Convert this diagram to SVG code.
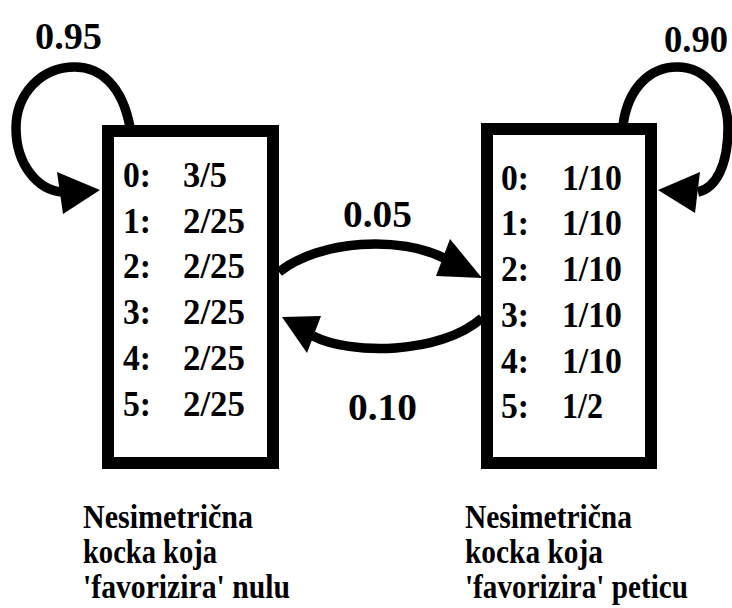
<svg xmlns="http://www.w3.org/2000/svg" width="732" height="608" viewBox="0 0 732 608">
<style>
.box{fill:#fff;stroke:#000;stroke-width:12}
.t{font-weight:bold;fill:#000}
.row{font-size:36px}
.lbl{font-size:38px}
.cap{font-size:34px}
.edge{fill:none;stroke:#000;stroke-width:9.5}
.head{fill:#000}
</style>
<rect width="732" height="608" fill="#fff"/>
<g id="connectors" font-family="Liberation Serif, Times New Roman, serif">
  <path class="edge" d="M130,127 C122,85 100,67 75,67 C40,67 16,95 16,128 C16,165 38,190 62,192"/>
  <polygon class="head" points="57,172 100,190 63,214"/>
  <path class="edge" d="M623,125 C628,88 650,67 677,67 C707,67 728,95 728,128 C728,165 716,188 698,192"/>
  <polygon class="head" points="700,172 658,190 695,213"/>
  <path class="edge" d="M279,272 C320,240 400,235 446,259"/>
  <polygon class="head" points="450,239 482,278 436,276"/>
  <path class="edge" d="M482,318 C440,355 350,355 313,336"/>
  <polygon class="head" points="321,316 282,317 307,353"/>
  <text class="t lbl" x="35" y="49" textLength="67" lengthAdjust="spacingAndGlyphs">0.95</text>
  <text class="t lbl" x="664" y="52" textLength="64" lengthAdjust="spacingAndGlyphs">0.90</text>
  <text class="t lbl" x="343" y="227" textLength="69" lengthAdjust="spacingAndGlyphs">0.05</text>
  <text class="t lbl" x="348" y="420" textLength="69" lengthAdjust="spacingAndGlyphs">0.10</text>
</g>
<g id="node-left" font-family="Liberation Serif, Times New Roman, serif">
  <rect class="box" x="108" y="131" width="165" height="332"/>
  <text class="t row" x="123" y="187" textLength="28" lengthAdjust="spacingAndGlyphs">0:</text><text class="t row" x="183" y="187" textLength="44" lengthAdjust="spacingAndGlyphs">3/5</text>
  <text class="t row" x="123" y="233" textLength="28" lengthAdjust="spacingAndGlyphs">1:</text><text class="t row" x="183" y="233" textLength="62" lengthAdjust="spacingAndGlyphs">2/25</text>
  <text class="t row" x="123" y="278" textLength="28" lengthAdjust="spacingAndGlyphs">2:</text><text class="t row" x="183" y="278" textLength="62" lengthAdjust="spacingAndGlyphs">2/25</text>
  <text class="t row" x="123" y="324" textLength="28" lengthAdjust="spacingAndGlyphs">3:</text><text class="t row" x="183" y="324" textLength="62" lengthAdjust="spacingAndGlyphs">2/25</text>
  <text class="t row" x="123" y="370" textLength="28" lengthAdjust="spacingAndGlyphs">4:</text><text class="t row" x="183" y="370" textLength="62" lengthAdjust="spacingAndGlyphs">2/25</text>
  <text class="t row" x="123" y="416" textLength="28" lengthAdjust="spacingAndGlyphs">5:</text><text class="t row" x="183" y="416" textLength="62" lengthAdjust="spacingAndGlyphs">2/25</text>
  <text class="t cap" x="83" y="528" textLength="170" lengthAdjust="spacingAndGlyphs">Nesimetrična</text>
  <text class="t cap" x="83" y="563" textLength="134" lengthAdjust="spacingAndGlyphs">kocka koja</text>
  <text class="t cap" x="83" y="598" textLength="207" lengthAdjust="spacingAndGlyphs">'favorizira' nulu</text>
</g>
<g id="node-right" font-family="Liberation Serif, Times New Roman, serif">
  <rect class="box" x="487" y="129" width="164" height="334"/>
  <text class="t row" x="501" y="190" textLength="28" lengthAdjust="spacingAndGlyphs">0:</text><text class="t row" x="562" y="190" textLength="60" lengthAdjust="spacingAndGlyphs">1/10</text>
  <text class="t row" x="501" y="235" textLength="28" lengthAdjust="spacingAndGlyphs">1:</text><text class="t row" x="562" y="235" textLength="60" lengthAdjust="spacingAndGlyphs">1/10</text>
  <text class="t row" x="501" y="281" textLength="28" lengthAdjust="spacingAndGlyphs">2:</text><text class="t row" x="562" y="281" textLength="60" lengthAdjust="spacingAndGlyphs">1/10</text>
  <text class="t row" x="501" y="327" textLength="28" lengthAdjust="spacingAndGlyphs">3:</text><text class="t row" x="562" y="327" textLength="60" lengthAdjust="spacingAndGlyphs">1/10</text>
  <text class="t row" x="501" y="373" textLength="28" lengthAdjust="spacingAndGlyphs">4:</text><text class="t row" x="562" y="373" textLength="60" lengthAdjust="spacingAndGlyphs">1/10</text>
  <text class="t row" x="501" y="418" textLength="28" lengthAdjust="spacingAndGlyphs">5:</text><text class="t row" x="562" y="418" textLength="41" lengthAdjust="spacingAndGlyphs">1/2</text>
  <text class="t cap" x="465" y="528" textLength="167" lengthAdjust="spacingAndGlyphs">Nesimetrična</text>
  <text class="t cap" x="465" y="563" textLength="138" lengthAdjust="spacingAndGlyphs">kocka koja</text>
  <text class="t cap" x="465" y="598" textLength="223" lengthAdjust="spacingAndGlyphs">'favorizira' peticu</text>
</g>
</svg>
